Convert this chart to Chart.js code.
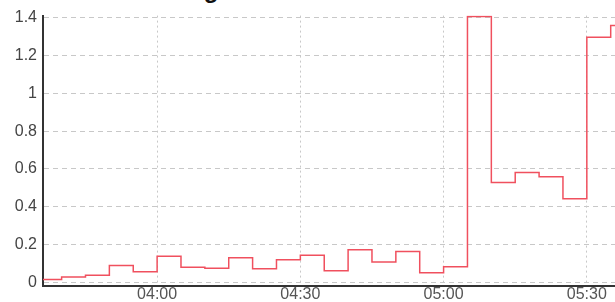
<!DOCTYPE html>
<html>
<head>
<meta charset="utf-8">
<script src="https://cdn.jsdelivr.net/npm/chart.js@4/dist/chart.umd.min.js"></script>
<style>
  html, body { margin: 0; padding: 0; background: #fff; overflow: hidden; }
  #wrap { position: relative; width: 615px; height: 302px; overflow: hidden; }
  #title {
    position: absolute; left: 138px; top: -22px; margin: 0;
    font: bold 24px "Liberation Sans", Arial, sans-serif; line-height: 24px; color: #111;
    white-space: nowrap;
  }
  #loadChart { position: absolute; left: 0; top: 0; }
</style>
</head>
<body>
<div id="wrap">
  <h1 id="title">Average Load</h1>
  <canvas id="loadChart" width="615" height="302"></canvas>
</div>
<script>
// step start times, minutes after midnight (5 minute steps)
const stepTimes = [215, 220, 225, 230, 235, 240, 245, 250, 255, 260, 265, 270, 275,
  280, 285, 290, 295, 300, 305, 310, 315, 320, 325, 330, 335, 340];
// load value for each step
const loadValues = [0.015, 0.028, 0.037, 0.089, 0.056, 0.138, 0.080, 0.075, 0.130, 0.072,
  0.120, 0.143, 0.061, 0.172, 0.108, 0.163, 0.050, 0.082, 1.407, 0.529, 0.582, 0.559,
  0.442, 1.298, 1.360, 1.360];
// visible window and tick values
const xMin = 216.1, xMax = 335.9;
const xTicks = [240, 270, 300, 330];
const yMin = -0.0195, yMax = 1.412;
const yTicks = [0, 0.2, 0.4, 0.6, 0.8, 1, 1.2, 1.4];

function hhmm(m) {
  let h = Math.floor(m / 60), mm = Math.round(m % 60);
  return String(h).padStart(2, '0') + ':' + String(mm).padStart(2, '0');
}

let ctx = document.getElementById('loadChart').getContext('2d');
let loadChart = new Chart(ctx, {
  type: 'line',
  data: {
    datasets: [{
      label: 'Load',
      data: stepTimes.map((t, i) => ({ x: t, y: loadValues[i] })),
      borderColor: '#f0505e',
      borderWidth: 1.5,
      stepped: 'before',
      pointRadius: 0,
      fill: false
    }]
  },
  options: {
    responsive: false,
    animation: false,
    layout: { padding: { top: 14, right: 0, left: 0, bottom: 0 } },
    plugins: { legend: { display: false }, tooltip: { enabled: false } },
    scales: {
      x: {
        type: 'linear',
        min: xMin,
        max: xMax,
        afterFit: s => { s.height = 16; },
        afterBuildTicks: s => { s.ticks = xTicks.map(v => ({ value: v })); },
        // in v4 border.dash is the dash of the grid lines
        border: { display: true, color: '#333', width: 2, dash: [2, 3] },
        grid: { color: '#c8c8c8', drawTicks: false, lineWidth: 1 },
        ticks: {
          padding: -1,
          maxRotation: 0,
          color: '#555',
          font: { family: 'Liberation Sans, Arial', size: 16 },
          callback: v => hhmm(v)
        }
      },
      y: {
        min: yMin,
        max: yMax,
        afterFit: s => { s.width = 43; },
        afterBuildTicks: s => { s.ticks = yTicks.map(v => ({ value: v })); },
        border: { display: true, color: '#333', width: 2, dash: [5, 4] },
        grid: { color: '#c8c8c8', drawTicks: false, lineWidth: 1 },
        ticks: {
          padding: 6,
          color: '#444',
          font: { family: 'Liberation Sans, Arial', size: 16 },
          callback: v => String(+v.toFixed(1))
        }
      }
    }
  }
});
</script>
</body>
</html>
